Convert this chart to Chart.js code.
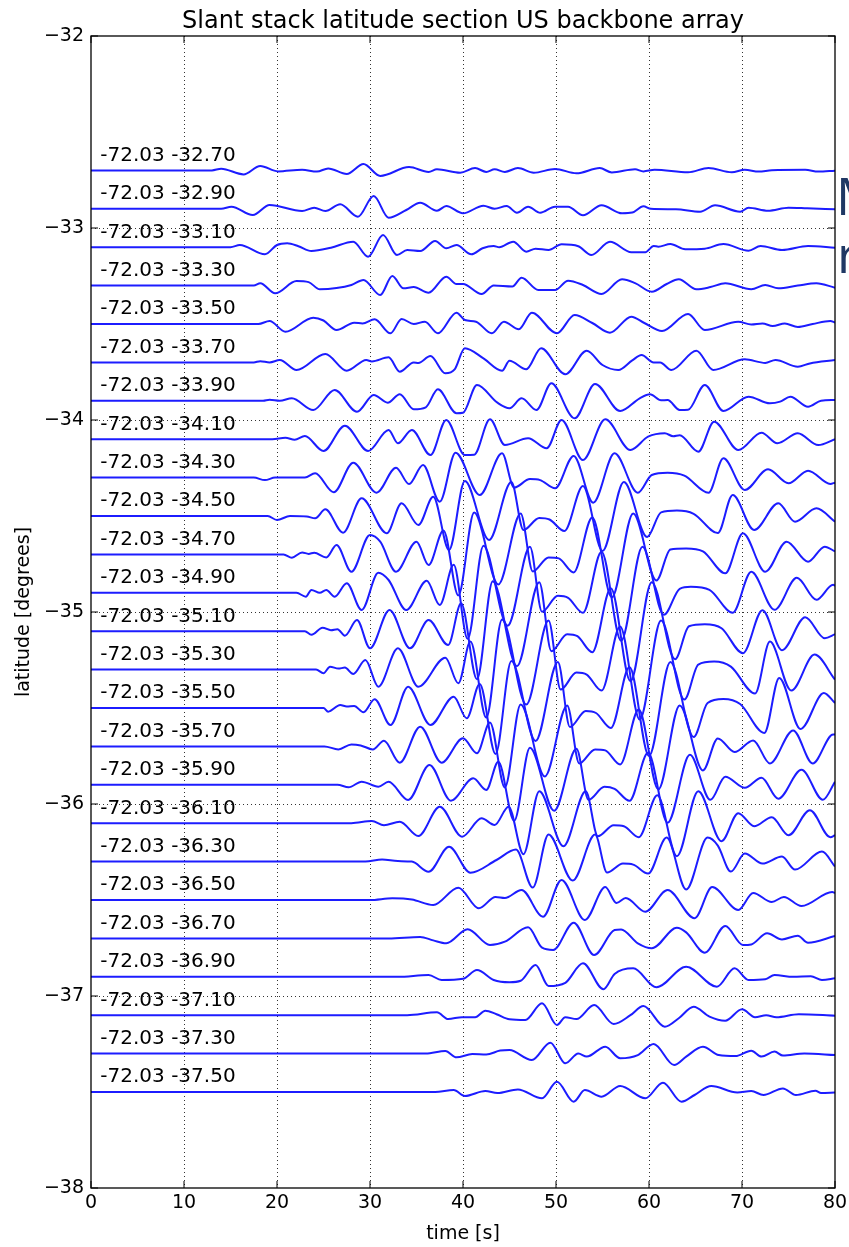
<!DOCTYPE html>
<html>
<head>
<meta charset="utf-8">
<script src="https://cdn.jsdelivr.net/npm/chart.js@4.4.1/dist/chart.umd.min.js"></script>
<style>
  html, body { margin: 0; padding: 0; background: #fff; overflow: hidden; }
</style>
</head>
<body>
<canvas id="chart" width="849" height="1247"></canvas>
<script>
// beam latitudes (deg) and the common longitude of the slant stack
const lats = [-32.70, -32.90, -33.10, -33.30, -33.50, -33.70, -33.90, -34.10, -34.30,
  -34.50, -34.70, -34.90, -35.10, -35.30, -35.50, -35.70, -35.90, -36.10, -36.30,
  -36.50, -36.70, -36.90, -37.10, -37.30, -37.50];
const lon = '-72.03';
const xTicks = [0, 10, 20, 30, 40, 50, 60, 70, 80];
const yTicks = [-38, -37, -36, -35, -34, -33, -32];

// amplitude -> degrees on the plot
const GAIN = 1 / 192;

// traces: [time s, amplitude] at the turning points
const T3270 = [[0,0],[13,0],[14,1.7],[16.4,-4],[18.2,4.4],[20.1,-1],[22.7,0.7],[24.3,-1.2],[25.5,2],[27.5,-3.6],[29.3,6.3],[31.1,-5.5],[34.2,3.3],[36.3,-1.5],[37.2,1.1],[39.7,-2.4],[41.3,2.3],[42.5,-1.5],[43.4,1.1],[44.5,-1.5],[45.9,2.3],[47.6,-2.4],[49.9,1.4],[52.2,-2.9],[54.7,2.3],[56,-2],[58.5,1.1],[59.4,-1],[60.6,0.6],[64.2,-1.9],[66.4,2.4],[68.9,-1.9],[70.3,0.6],[71.8,-1.2],[73.2,0.2],[76.8,0.6],[78.2,-1.2],[80,-0.3]];
const T3290 = [[0,0],[14,0],[15.1,2.1],[17.4,-6.2],[19.2,3.8],[22.7,-2.2],[24,1.1],[25.2,-2.2],[26.8,4.5],[28.7,-7.9],[30.4,12.8],[32,-8.9],[33.9,-1.2],[35.4,6.1],[37.2,-1.9],[38.2,2.8],[40,-4.5],[42.2,3.1],[43.4,0],[44.7,2.8],[45.8,-3.9],[47,2.1],[48.3,-3.9],[49.9,2.1],[51.3,2.1],[52.9,-6.5],[54.9,3.5],[57.1,-4.5],[58.2,-3.8],[59.4,2.5],[60.2,0],[62.9,-0.5],[65.5,-2.9],[67.1,3.5],[69.8,-2.9],[70.7,1.1],[72.8,-1.9],[75,1.1],[77,0.5],[80,-0.5]];
const T3310 = [[0,0],[15,0],[16,2.2],[18.7,-7.1],[20,2.2],[21.1,3.9],[22.3,1],[23.7,-3.8],[25.8,-0.5],[28.2,5.5],[29.8,-9.5],[31.4,12.2],[32.9,-7.8],[34,-2.8],[35.4,-3.8],[37,6.2],[38.2,-1.1],[39.3,2.2],[40.9,-7.1],[42.1,-1.1],[43.3,1.2],[43.9,0],[45.4,5.5],[46.8,-4.5],[47.8,-1.5],[49.2,-2.8],[50.6,2.9],[52.4,1],[53.8,-7.8],[55.8,5.5],[58.1,-5.1],[59.6,-5],[60.5,1.2],[61,0.5],[62.3,3.2],[63.9,-2.1],[66,-1.5],[68,3.2],[70.7,-3.5],[72,1.2],[74.3,-2.8],[77.1,1.2],[80,-0.5]];
const T3330 = [[0,0],[17.5,0],[18.2,2.3],[19.8,-7.7],[22.1,4.6],[23.4,3.5],[24.6,-3.7],[26.4,-2.5],[28,0.6],[29.3,5.6],[31.1,-9.4],[32.4,9.6],[33.6,-2.7],[34.7,-1.5],[36.3,-7.1],[38.2,8.9],[39.3,1.6],[40,1.6],[42,-8.4],[43.3,0],[45.3,-1],[46.3,7.9],[48.1,-4.4],[49.9,-4.4],[51.3,4.9],[52.9,0.6],[54.9,-8.4],[57.1,6.3],[58.5,2.5],[60.3,-6.1],[61.9,1.6],[63.2,6.3],[65.1,-3.7],[66.6,-1.5],[68.2,2.3],[71,-3.7],[72.5,0.6],[73.9,-2.7],[76,0],[78,2.3],[80,-2.1]];
const T3350 = [[0,0],[18,0],[19.2,3],[20.9,-7.7],[23.9,6.3],[25,3.5],[26.4,-6],[28.3,1.3],[29.2,0.5],[30.5,4.7],[32.2,-9.3],[33.4,5],[34.7,0],[35.9,2.3],[37.3,-9.3],[39.3,11.3],[40.2,4],[41.4,2.3],[43.1,-9.3],[44.4,2.3],[46,-5.3],[47.4,11.3],[50.1,-9.3],[52,9],[53.9,1],[55.8,-8.7],[58.1,7.3],[59.5,1],[61.4,-7],[64.2,10],[66,-6],[69.6,2.3],[71,-0.5],[72.2,0.5],[73.3,-2],[74.6,0.5],[76,-3],[77.6,0],[79.5,3],[80,1.5]];
const T3370 = [[0,0],[17.5,0],[18.2,1.2],[19.2,0],[20.3,2.4],[22.1,-7.6],[25.2,8.4],[27.5,-8.3],[29.6,2.4],[30.2,1],[32,5.1],[33.2,-9.3],[34.7,0],[35.2,-0.5],[36.5,6.4],[38.1,-10.9],[39.1,-7],[40.2,14.1],[42.2,4],[44.2,-8.3],[45,1.7],[46.8,-6.9],[48.4,14.1],[51,-11.9],[53.3,11.7],[55,-2.6],[56.7,-7.6],[58.2,2],[59.2,7.4],[60.5,0],[61.2,0],[62.4,-7.6],[65.1,11.7],[66.9,-7.6],[70.3,3.1],[72.5,-0.5],[73.6,2.4],[76,-4.3],[77.3,-1],[80,2.4]];
const T3390 = [[0,0],[18.5,0],[19.2,1],[20.3,0],[21.6,2.5],[23.9,-9.2],[26.2,10.8],[28.6,-10.9],[30.4,5.8],[31.9,-1.9],[33.2,6.5],[34.7,-8.5],[36,-6.5],[37.3,11.5],[39.3,-12.5],[40,-12],[41.5,15.8],[43.7,-1.9],[45,-7.5],[46.3,2.5],[47.9,-9.2],[49.5,17.5],[52,-17.5],[54.2,16.8],[56.9,-10.2],[59,2.5],[60.1,6.5],[61.3,0.5],[62,0.8],[63.3,-9.2],[64.2,-9],[66,15.8],[68,-10.2],[70.7,4.1],[73,-2.5],[74.1,-0.8],[75.2,4.1],[77.1,-5.9],[78.5,0],[80,0.8]];
const T3410 = [[0,0],[19.5,0],[20.9,1.5],[21.9,-0.5],[23,3.2],[25,-11.8],[27.3,13.5],[29.8,-11.8],[32,9.2],[33,-4.1],[34.5,9.2],[36.5,-15.8],[38.2,19.2],[40.2,-15.8],[41.2,-15.5],[42.9,19.9],[44.5,-5.8],[47,0.9],[49,-9.1],[50.6,19.2],[52.9,-20.8],[55.3,19.9],[58,-10.8],[59.9,2.5],[61.7,5.9],[62.6,3],[63.3,4],[65.3,-12.5],[67,17.5],[69.6,-10.8],[72.1,6.5],[73.8,-4.1],[76,5.9],[78.2,-5.8],[80,0]];
const T3430 = [[0,0],[17.5,0],[18.7,-2.5],[19.8,0],[23,0],[24.1,4.3],[26.1,-14.7],[28.2,14.9],[30.7,-15.1],[32.8,9.9],[34.2,-6.4],[35.7,12.6],[37.5,-24.1],[39.2,24.9],[41.8,-17.4],[44.2,24.3],[45.5,-10],[47.2,-1.5],[48.3,-2.5],[49.9,-10.7],[51.9,21.6],[54,-25.1],[56.3,24.3],[58.8,-15.1],[60.3,2.6],[62,4.9],[63.8,2],[66.4,-15.1],[68,19.3],[70.3,-12.4],[72.8,8.3],[75,-5.7],[77.1,6.9],[79.5,-6.4],[80,-5]];
const T3450 = [[0,0],[19,0],[20,-4],[21.4,0],[23.2,-0.5],[24.1,-2.3],[25.2,6.7],[27.1,-16.7],[29.1,17.7],[31.8,-17.3],[33.4,12.7],[35.2,-9],[36.8,19.3],[38.5,-34],[40.2,35],[42.8,-24],[45.2,34],[46.5,-14],[48.2,-2],[49.3,-3.5],[50.9,-15],[52.9,30],[55,-35],[57.3,34],[59.8,-21],[61.3,3.6],[63,5.4],[64.8,2.2],[67.4,-17],[69,21],[71.3,-14],[73.9,12.7],[75.7,-5.7],[78,7.7],[80,-5.7]];
const T3470 = [[0,0],[20.7,0],[21.6,-3.3],[22.7,2],[23.4,0.5],[24,1.7],[25.3,-3],[26.4,9.4],[28,-17.3],[30,19.4],[31.1,12.7],[32.8,-17.3],[35,12.7],[36.3,-10.6],[37.9,24],[39.5,-41],[41.2,42],[43.8,-30],[46.2,41],[47.5,-17],[49.2,-3],[50.3,-4],[51.9,-18],[53.9,37],[56,-43],[58.3,41],[60.8,-26],[62.3,5],[64,6],[65.8,3],[68.2,-18.9],[70.1,21.1],[72.5,-17.3],[74.8,12.7],[77.1,-7.3],[78.9,7.7],[80,3]];
const T3490 = [[0,0],[22.1,0],[23.1,-3.9],[23.7,2.8],[24.6,0],[25.3,2.8],[26.2,-3.9],[27.5,9.5],[29.1,-17.2],[30.9,20.1],[32,12.8],[33.9,-17.2],[36.1,12.1],[37.5,-12.2],[39,28],[40.5,-46],[42.2,47],[44.8,-33],[47.2,46],[48.5,-19],[50.2,-3],[51.3,-5],[52.9,-20],[54.9,41],[57,-48],[59.3,46],[61.6,-22],[63.3,4],[64.5,6],[66.5,3],[69,-20],[71,21],[73.5,-17],[75.9,15],[78,-7],[79.8,8],[80,7]];
const T3510 = [[0,0],[23,0],[23.7,-3.6],[24.9,3.5],[25.8,1],[26.5,2],[27.3,-4.5],[28.6,11.2],[30,-17.1],[32.1,21.2],[34.3,-17.1],[36.3,11.2],[38.4,-13.8],[39.8,28],[41.5,-48],[43.2,50],[45.8,-35],[48.2,49],[49.5,-20],[51.2,-3],[52.3,-5],[53.9,-21],[55.9,43],[58,-50],[60.3,49],[62.8,-28],[64.3,5],[66,7],[67.8,3],[70.1,-22],[72.2,21],[74.3,-19],[76.8,14],[78.9,-7],[80,-3]];
const T3530 = [[0,0],[24.2,0],[25,-3.6],[25.7,2.9],[26.6,1],[27.3,2],[28.2,-4.4],[29.5,9.6],[30.9,-17.1],[33,21.3],[35.2,-17.1],[38.1,11.9],[39.5,-13.7],[40.8,28],[42.5,-48],[44.2,50],[46.8,-35],[49.2,49],[50.5,-20],[52.2,-3],[53.3,-5],[54.9,-21],[56.9,43],[59,-50],[61.3,49],[63.8,-30],[65.3,5],[67,8],[68.8,3],[71.4,-24],[73,28],[75.3,-21],[77.8,15],[80,-10]];
const T3550 = [[0,0],[25,0],[25.5,-3.7],[26.8,3],[27.5,1.5],[28.3,2],[29.3,-4.3],[30.5,8.7],[32.2,-17],[34.1,21.3],[36.5,-17],[39,11.3],[40.4,-10.3],[41.8,24],[43.5,-46],[45.2,47],[47.8,-33],[50.2,46],[51.5,-19],[53.2,-3],[54.3,-5],[55.9,-20],[57.9,41],[60,-48],[62.3,46],[64.8,-29],[66.3,5],[68,9],[69.8,4],[72.4,-25],[74,30],[76.3,-21],[78.8,15],[80,5]];
const T3570 = [[0,0],[25.1,0],[26.6,-3],[28,2],[29,1],[30.3,-3],[31.5,5.7],[33.2,-16.3],[35.4,19.7],[37.7,-16.3],[40,8.1],[41.5,-6.9],[42.9,24],[44.5,-41],[46.2,42],[48.8,-30],[51.2,41],[52.5,-17],[54.2,-3],[55.3,-4],[56.9,-18],[58.9,37],[61,-43],[63.3,41],[65.8,-24],[67.4,8],[69.2,-5.6],[71.2,6],[73,-17],[75.5,16],[77.6,-17],[79.8,12],[80,12]];
const T3590 = [[0,0],[26.5,0],[27.7,-2.5],[29.1,3.1],[30.9,-1.9],[32,3],[34.1,-15.2],[36.4,19.8],[38.7,-15.9],[41.1,6.5],[42.5,-5.2],[43.8,23.1],[45.5,-36],[47.2,37],[49.8,-26],[52.2,36],[53.5,-15],[55.2,-2],[56.3,-4],[57.9,-16],[59.9,32],[62,-38],[64.4,30],[66.6,-15],[68.2,8],[70.3,-3],[72.1,7],[73.9,-14],[76.4,15],[78.7,-15],[80,3]];
const T3610 = [[0,0],[28,0],[30.2,2.2],[31.5,-2],[33.2,1.5],[35.2,-12.8],[37.5,16.5],[39.9,-13.5],[42,4.9],[43.4,-1.8],[44.9,16.5],[46.5,-31],[48.2,32],[50.8,-23],[53.2,32],[54.5,-13],[56.2,-2],[57.3,-3],[58.9,-14],[60.9,28],[63,-33],[65.3,32],[67.8,-18],[69.6,10],[71.3,-3],[73.2,6],[75,-12],[77.3,13],[79.5,-14],[80,-12]];
const T3630 = [[0,0],[29.5,0],[31.3,2],[33,0.5],[34.5,0],[36.3,-10.1],[38.5,14.9],[40.8,-11.1],[43.6,1.6],[45.7,12],[47.5,-26],[49.2,27],[51.8,-19],[54.2,27],[55.5,-11],[57.2,-2],[58.3,-3],[59.9,-12],[61.9,24],[64,-28],[66.3,24],[67.4,16],[68.8,-10],[70.3,8],[72.2,-2],[74.3,5],[75.7,-8],[78.6,10],[80,-5]];
const T3650 = [[0,0],[30,0],[32.4,1.7],[34.5,0.5],[36.8,-5],[39.5,12.3],[41.7,-8.3],[43.5,3],[44.5,2],[46.3,10],[48.6,-16.7],[50.6,20],[53.1,-20],[55.3,13],[56.5,-3],[57.5,2],[59.6,-11.7],[62,10],[64.9,-18.3],[66.8,13],[69.6,-10],[71.2,7],[73.2,-2],[74.5,3],[76.4,-6],[79.7,8],[80,7]];
const T3670 = [[0,0],[32,0],[35.4,1.5],[36.8,-2],[38.2,-4.9],[40.5,9.1],[42.9,-6.6],[44.5,-3.3],[47,11.1],[48.5,-9.3],[49.7,-11.6],[51.9,15.7],[54.1,-16.6],[56.3,8.4],[57,9],[58.8,-4.9],[60.3,-9.9],[63,10.7],[64,6],[66,-14.3],[68.2,12.4],[70.1,-6.6],[71,-6],[72.7,5.1],[74.3,-1],[76,2.7],[77.1,-4.3],[80,2.4]];
const T3690 = [[0,0],[33,0],[36.3,1.8],[37.7,-3.2],[40,-2],[41.5,6.8],[43.3,-3.2],[45,-5.5],[46.2,-4],[47.8,11.8],[49.2,-9.2],[51,-6],[52.9,13.5],[55.1,-12.5],[56.3,2.8],[58.3,8.5],[60.8,-10.5],[64,10.1],[67.3,-9.9],[69.2,8.5],[70.7,-3.2],[72.5,-2.5],[73.5,1.8],[75.5,0],[77.4,0.5],[78.6,-3.2],[80,-1.5]];
const T3710 = [[0,0],[34,0],[37.2,2.9],[38.4,-3.8],[39.9,-2],[41.3,-2],[42.4,4.5],[43.6,1],[45,-4.1],[46.7,-4.8],[48.5,11.9],[50.1,-9.8],[51,-2],[52.2,-3.9],[54.1,10.2],[56.2,-8.8],[58,0],[59.4,9.2],[61.7,-11.5],[63.2,-3],[64.8,8.5],[66.5,-1.4],[68.2,-5.5],[70,5.9],[71.4,-2],[72.6,0],[73.7,-2],[76.1,1],[80,-0.5]];
const T3730 = [[0,0],[36,0],[38.1,2.6],[39.3,-3.7],[41,-0.5],[42.5,-1],[44,3],[45,3.5],[47.4,-6.4],[49.4,10.9],[51,-9.7],[52.4,0],[53.3,-3],[55.3,6.9],[56.9,-4.7],[58.8,-1.5],[60.5,9.6],[62.7,-11.4],[64,-3],[65.8,6.9],[67.5,-1.5],[69.3,-2.5],[71,2.9],[72.1,-3],[73.5,2],[74.4,-2],[76.7,0],[80,-1.5]];
const T3750 = [[0,0],[37,0],[39,2],[40.2,-4],[42.4,1],[43.7,-1],[45.9,2.6],[48.5,-6.3],[50.1,10.3],[51.9,-9.7],[53.1,1.9],[54.9,-4.7],[56.9,6],[59.6,-6.3],[61.5,9.3],[63.5,-9.7],[64.9,-3],[66.7,6],[69.5,-0.5],[71,1],[72.3,-3],[74.4,3.6],[75.8,-3],[77.9,1.3],[78.5,-1],[80,-0.5]];

const traces = [T3270, T3290, T3310, T3330, T3350, T3370, T3390, T3410, T3430,
  T3450, T3470, T3490, T3510, T3530, T3550, T3570, T3590, T3610, T3630,
  T3650, T3670, T3690, T3710, T3730, T3750];

const FONT = '"DejaVu Sans", "Bitstream Vera Sans", sans-serif';

const datasets = traces.map((tr, i) => ({
  data: tr.map(([t, a]) => ({ x: t, y: lats[i] + a * GAIN })),
  borderColor: '#1c1cff',
  borderWidth: 2,
  pointRadius: 0,
  fill: false,
  cubicInterpolationMode: 'monotone'
}));

// grid, frame, tick marks and all the text matplotlib would put around the axes
const decor = {
  id: 'decor',
  beforeDatasetsDraw(chart) {
    const { ctx, chartArea: a, scales: { x, y } } = chart;
    ctx.save();
    ctx.strokeStyle = '#333';
    ctx.lineWidth = 1;
    ctx.setLineDash([1, 3]);
    xTicks.slice(1, -1).forEach(v => {
      const px = Math.round(x.getPixelForValue(v)) + 0.5;
      ctx.beginPath(); ctx.moveTo(px, a.top); ctx.lineTo(px, a.bottom); ctx.stroke();
    });
    yTicks.slice(1, -1).forEach(v => {
      const py = Math.round(y.getPixelForValue(v)) + 0.5;
      ctx.beginPath(); ctx.moveTo(a.left, py); ctx.lineTo(a.right, py); ctx.stroke();
    });
    ctx.restore();
  },
  afterDraw(chart) {
    const { ctx, chartArea: a, scales: { x, y } } = chart;
    ctx.save();
    // station labels above each trace
    ctx.fillStyle = '#000';
    ctx.font = '20px ' + FONT;
    ctx.textAlign = 'left';
    ctx.textBaseline = 'alphabetic';
    lats.forEach(lat => {
      ctx.fillText(lon + ' ' + lat.toFixed(2), x.getPixelForValue(1), y.getPixelForValue(lat + 0.05));
    });
    // frame and inward ticks
    ctx.strokeStyle = '#000';
    ctx.lineWidth = 1.3;
    ctx.strokeRect(a.left, a.top, a.right - a.left, a.bottom - a.top);
    ctx.lineWidth = 1;
    xTicks.forEach(v => {
      const px = x.getPixelForValue(v);
      ctx.beginPath();
      ctx.moveTo(px, a.bottom); ctx.lineTo(px, a.bottom - 7);
      ctx.moveTo(px, a.top); ctx.lineTo(px, a.top + 7);
      ctx.stroke();
    });
    yTicks.forEach(v => {
      const py = y.getPixelForValue(v);
      ctx.beginPath();
      ctx.moveTo(a.left, py); ctx.lineTo(a.left + 7, py);
      ctx.moveTo(a.right, py); ctx.lineTo(a.right - 7, py);
      ctx.stroke();
    });
    // title and axis labels
    const cx = (a.left + a.right) / 2;
    ctx.textAlign = 'center';
    ctx.font = '24px ' + FONT;
    ctx.fillText('Slant stack latitude section US backbone array', cx, 28);
    ctx.font = '19px ' + FONT;
    ctx.fillText('time [s]', cx, 1239);
    ctx.translate(29, (a.top + a.bottom) / 2);
    ctx.rotate(-Math.PI / 2);
    ctx.fillText('latitude [degrees]', 0, 0);
    ctx.restore();
    // clipped slide text at the right edge
    ctx.save();
    ctx.fillStyle = '#1f3864';
    ctx.font = '52px "Open Sans", sans-serif';
    ctx.textAlign = 'left';
    ctx.fillText('M', 836, 215);
    ctx.fillText('r', 837, 273);
    ctx.restore();
  }
};

new Chart(document.getElementById('chart'), {
  type: 'line',
  data: { datasets },
  options: {
    responsive: false,
    animation: false,
    events: [],
    layout: { padding: { left: 0, right: 14, top: 36, bottom: 0 } },
    plugins: { legend: { display: false }, tooltip: { enabled: false }, title: { display: false } },
    scales: {
      x: {
        type: 'linear', min: 0, max: 80,
        afterFit: s => { s.height = 59; s.paddingLeft = 0; s.paddingRight = 0; },
        afterBuildTicks: s => { s.ticks = xTicks.map(v => ({ value: v })); },
        grid: { display: false, drawTicks: false },
        border: { display: false },
        ticks: { color: '#000', padding: 4, maxRotation: 0, autoSkip: false, font: { family: FONT, size: 19 } }
      },
      y: {
        type: 'linear', min: -38, max: -32,
        afterFit: s => { s.width = 91; },
        afterBuildTicks: s => { s.ticks = yTicks.map(v => ({ value: v })); },
        grid: { display: false, drawTicks: false },
        border: { display: false },
        ticks: {
          color: '#000', padding: 7, autoSkip: false, font: { family: FONT, size: 19 },
          callback: v => String(v).replace('-', '\u2212')
        }
      }
    }
  },
  plugins: [decor]
});
</script>
</body>
</html>
